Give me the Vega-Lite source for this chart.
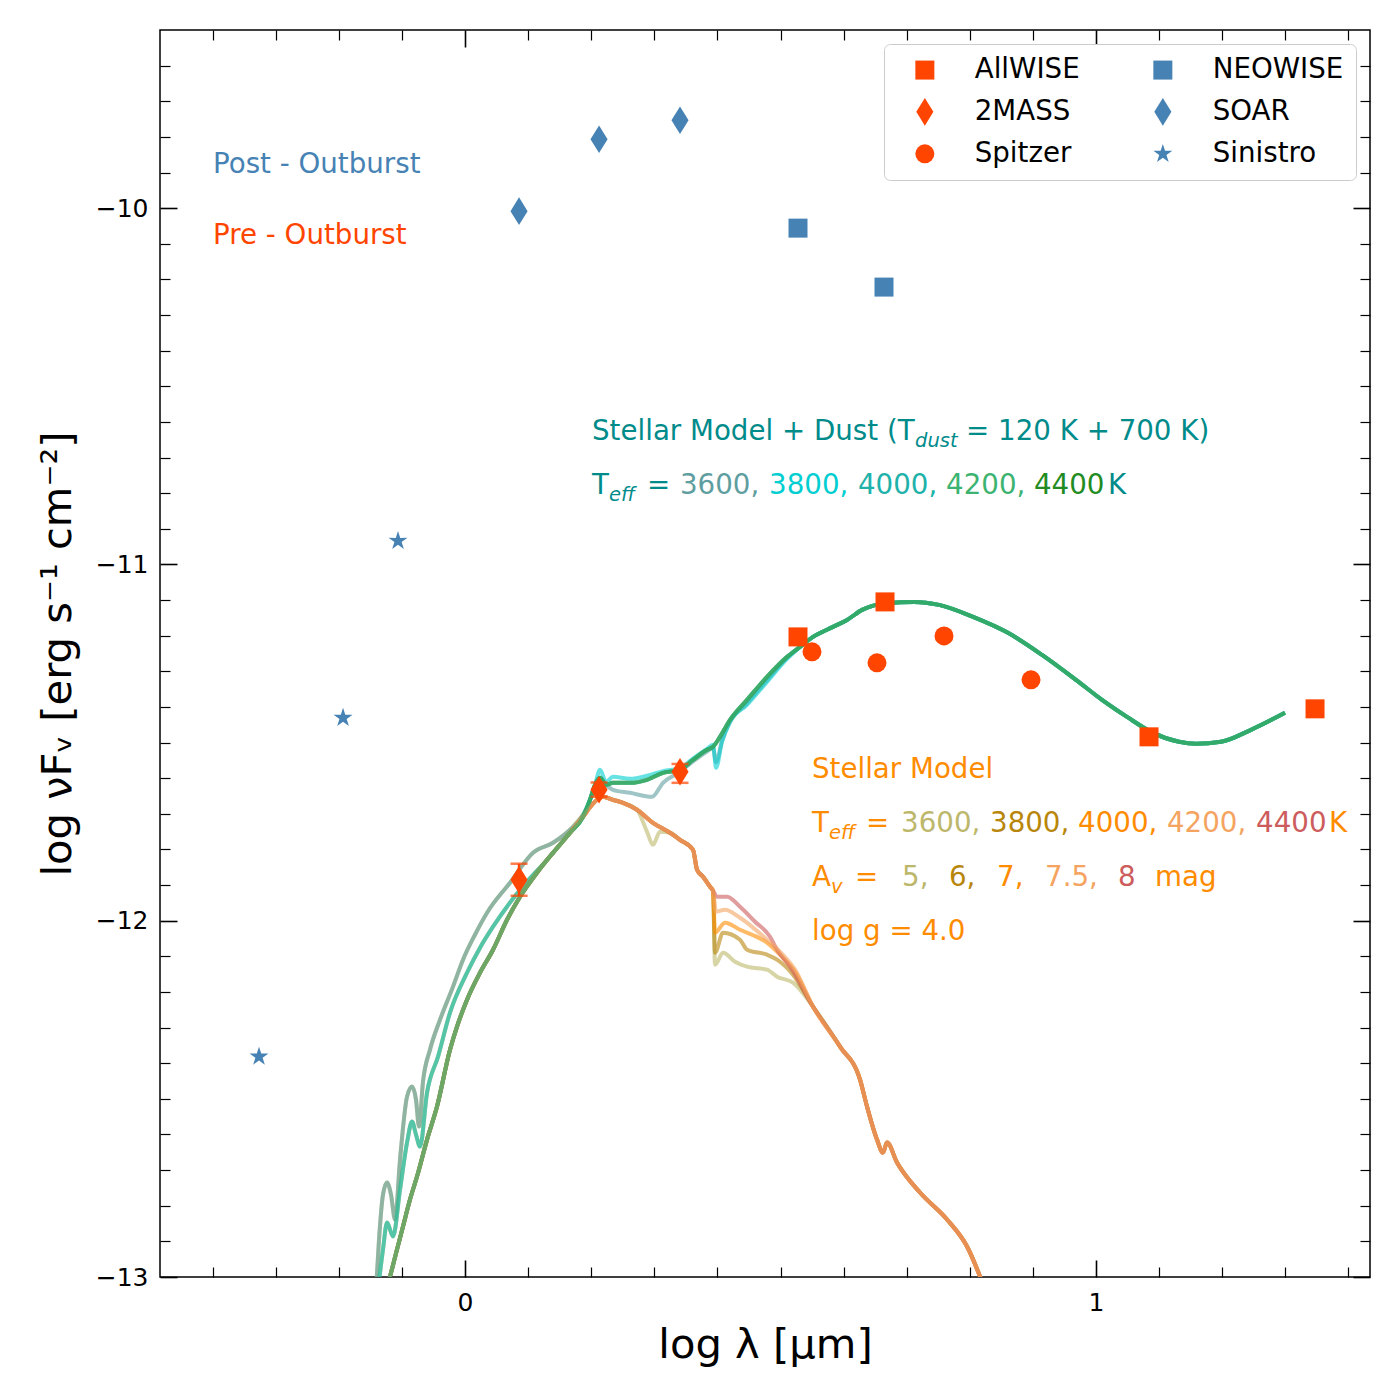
{
  "$schema": "https://vega.github.io/schema/vega-lite/v6.json",
  "width": 1210,
  "height": 1247,
  "autosize": "none",
  "padding": {"left": 160, "top": 30, "right": 30, "bottom": 123},
  "background": "white",
  "config": {
    "font": "DejaVu Sans",
    "view": {"stroke": "black", "strokeWidth": 1.5},
    "axis": {"grid": false, "domain": false, "tickColor": "black", "labelColor": "black", "titleColor": "black", "labelFont": "DejaVu Sans", "titleFont": "DejaVu Sans", "titleFontWeight": "normal", "tickWidth": 1.5},
    "legend": {"orient": "top-right", "offset": 14, "columns": 2, "padding": 12, "strokeColor": "#cccccc", "fillColor": "white", "cornerRadius": 6, "labelFontSize": 27.7, "labelFont": "DejaVu Sans", "labelColor": "black", "symbolSize": 361, "symbolOffset": 15, "labelOffset": 36, "columnPadding": 54, "rowPadding": 13, "symbolStrokeWidth": 0, "labelLimit": 400, "symbolOpacity": 1}
  },
  "resolve": {"axis": {"x": "independent", "y": "independent"}},
  "datasets": {
    "pts": [
      {"survey": "AllWISE", "x": 0.5277, "y": -11.2034},
      {"survey": "AllWISE", "x": 0.6656, "y": -11.1052},
      {"survey": "AllWISE", "x": 1.084, "y": -11.4839},
      {"survey": "AllWISE", "x": 1.3471, "y": -11.4053},
      {"survey": "2MASS", "x": 0.0856, "y": -11.885},
      {"survey": "2MASS", "x": 0.2124, "y": -11.6325},
      {"survey": "2MASS", "x": 0.3407, "y": -11.582},
      {"survey": "Spitzer", "x": 0.5499, "y": -11.2454},
      {"survey": "Spitzer", "x": 0.6529, "y": -11.2763},
      {"survey": "Spitzer", "x": 0.7591, "y": -11.2006},
      {"survey": "Spitzer", "x": 0.897, "y": -11.324},
      {"survey": "NEOWISE", "x": 0.5277, "y": -10.0561},
      {"survey": "NEOWISE", "x": 0.664, "y": -10.2216},
      {"survey": "SOAR", "x": 0.0856, "y": -10.0084},
      {"survey": "SOAR", "x": 0.2124, "y": -9.8065},
      {"survey": "SOAR", "x": 0.3407, "y": -9.7532},
      {"survey": "Sinistro", "x": -0.3265, "y": -12.3815},
      {"survey": "Sinistro", "x": -0.1933, "y": -11.4306},
      {"survey": "Sinistro", "x": -0.1062, "y": -10.9341}
    ],
    "errs": [
      {"x": 0.0856, "lo": -11.93, "hi": -11.84},
      {"x": 0.2124, "lo": -11.652, "hi": -11.612},
      {"x": 0.3407, "lo": -11.613, "hi": -11.56}
    ],
    "labels": [
      {"k": "post", "x": -0.3994, "y": -9.9018, "t": "Post - Outburst"},
      {"k": "pre", "x": -0.3994, "y": -10.101, "t": "Pre - Outburst"},
      {"k": "dusttxt", "x": 0.2013, "y": -10.6508, "t": "Stellar Model + Dust (T"},
      {"k": "dusttxt", "x": 0.794, "y": -10.6508, "t": "= 120 K + 700 K)"},
      {"k": "dusttxt", "x": 0.2013, "y": -10.8022, "t": "T"},
      {"k": "dusttxt", "x": 0.2884, "y": -10.8022, "t": "="},
      {"k": "d3600", "x": 0.3407, "y": -10.8022, "t": "3600,"},
      {"k": "d3800", "x": 0.4818, "y": -10.8022, "t": "3800,"},
      {"k": "d4000", "x": 0.6228, "y": -10.8022, "t": "4000,"},
      {"k": "d4200", "x": 0.7623, "y": -10.8022, "t": "4200,"},
      {"k": "d4400", "x": 0.9017, "y": -10.8022, "t": "4400"},
      {"k": "dusttxt", "x": 1.019, "y": -10.8022, "t": "K"},
      {"k": "steltxt", "x": 0.5499, "y": -11.5989, "t": "Stellar Model"},
      {"k": "steltxt", "x": 0.5499, "y": -11.7504, "t": "T"},
      {"k": "steltxt", "x": 0.6355, "y": -11.7504, "t": "="},
      {"k": "s3600", "x": 0.691, "y": -11.7504, "t": "3600,"},
      {"k": "s3800", "x": 0.832, "y": -11.7504, "t": "3800,"},
      {"k": "s4000", "x": 0.9715, "y": -11.7504, "t": "4000,"},
      {"k": "s4200", "x": 1.1125, "y": -11.7504, "t": "4200,"},
      {"k": "s4400", "x": 1.2536, "y": -11.7504, "t": "4400"},
      {"k": "steltxt", "x": 1.3693, "y": -11.7504, "t": "K"},
      {"k": "steltxt", "x": 0.5499, "y": -11.9018, "t": "A"},
      {"k": "steltxt", "x": 0.6181, "y": -11.9018, "t": "="},
      {"k": "s3600", "x": 0.6926, "y": -11.9018, "t": "5,"},
      {"k": "s3800", "x": 0.767, "y": -11.9018, "t": "6,"},
      {"k": "s4000", "x": 0.8431, "y": -11.9018, "t": "7,"},
      {"k": "s4200", "x": 0.9192, "y": -11.9018, "t": "7.5,"},
      {"k": "s4400", "x": 1.0349, "y": -11.9018, "t": "8"},
      {"k": "steltxt", "x": 1.0935, "y": -11.9018, "t": "mag"},
      {"k": "steltxt", "x": 0.5499, "y": -12.0533, "t": "log g = 4.0"}
    ],
    "subs": [
      {"k": "dusttxt", "x": 0.7132, "y": -10.6704, "t": "dust"},
      {"k": "dusttxt", "x": 0.2282, "y": -10.8219, "t": "eff"},
      {"k": "steltxt", "x": 0.5769, "y": -11.77, "t": "eff"},
      {"k": "steltxt", "x": 0.58, "y": -11.9215, "t": "v"}
    ],
    "lines": [
      {"s":"s3600","x":-0.1410,"y":-13.035},{"s":"s3600","x":-0.1363,"y":-12.8948},{"s":"s3600","x":-0.1300,"y":-12.7686},{"s":"s3600","x":-0.1236,"y":-12.7349},{"s":"s3600","x":-0.1173,"y":-12.7686},{"s":"s3600","x":-0.1109,"y":-12.8387},{"s":"s3600","x":-0.1030,"y":-12.6704},{"s":"s3600","x":-0.0919,"y":-12.4937},{"s":"s3600","x":-0.0840,"y":-12.4656},{"s":"s3600","x":-0.0777,"y":-12.5021},{"s":"s3600","x":-0.0729,"y":-12.5778},{"s":"s3600","x":-0.0666,"y":-12.4516},{"s":"s3600","x":-0.0555,"y":-12.3619},{"s":"s3600","x":-0.0396,"y":-12.2777},{"s":"s3600","x":-0.0190,"y":-12.1851},{"s":"s3600","x":-0.0032,"y":-12.1094},{"s":"s3600","x":0.0158,"y":-12.0393},{"s":"s3600","x":0.0349,"y":-11.9776},{"s":"s3600","x":0.0713,"y":-11.8934},{"s":"s3600","x":0.1078,"y":-11.8093},{"s":"s3600","x":0.1395,"y":-11.7812},{"s":"s3600","x":0.1664,"y":-11.7448},{"s":"s3600","x":0.1870,"y":-11.7027},
      {"s":"s3600","x":0.2013,"y":-11.6746},{"s":"s3600","x":0.2092,"y":-11.6606},{"s":"s3600","x":0.2187,"y":-11.6522},{"s":"s3600","x":0.2345,"y":-11.6606},{"s":"s3600","x":0.2504,"y":-11.669},{"s":"s3600","x":0.2726,"y":-11.6886},{"s":"s3600","x":0.2884,"y":-11.7504},{"s":"s3600","x":0.2979,"y":-11.7868},{"s":"s3600","x":0.3090,"y":-11.7504},{"s":"s3600","x":0.3249,"y":-11.7532},{"s":"s3600","x":0.3407,"y":-11.7728},{"s":"s3600","x":0.3613,"y":-11.8008},{"s":"s3600","x":0.3677,"y":-11.857},{"s":"s3600","x":0.3772,"y":-11.8766},{"s":"s3600","x":0.3883,"y":-11.9046},{"s":"s3600","x":0.3930,"y":-11.9158},
      {"s":"s3600","x":0.3962,"y":-12.1234},{"s":"s3600","x":0.4089,"y":-12.0898},{"s":"s3600","x":0.4279,"y":-12.115},{"s":"s3600","x":0.4469,"y":-12.129},{"s":"s3600","x":0.4786,"y":-12.1374},{"s":"s3600","x":0.4945,"y":-12.1571},{"s":"s3600","x":0.5198,"y":-12.1739},
      {"s":"s3600","x":0.5515,"y":-12.2412},{"s":"s3600","x":0.5943,"y":-12.3534},{"s":"s3600","x":0.6260,"y":-12.446},{"s":"s3600","x":0.6371,"y":-12.5217},{"s":"s3600","x":0.6529,"y":-12.6143},{"s":"s3600","x":0.6624,"y":-12.6507},{"s":"s3600","x":0.6688,"y":-12.6227},{"s":"s3600","x":0.6846,"y":-12.6788},{"s":"s3600","x":0.7211,"y":-12.763},{"s":"s3600","x":0.7639,"y":-12.8387},{"s":"s3600","x":0.7956,"y":-12.9144},{"s":"s3600","x":0.8241,"y":-13.035},

      {"s":"d3600","x":-0.1410,"y":-13.035},{"s":"d3600","x":-0.1363,"y":-12.8948},{"s":"d3600","x":-0.1300,"y":-12.7686},{"s":"d3600","x":-0.1236,"y":-12.7349},{"s":"d3600","x":-0.1173,"y":-12.7686},{"s":"d3600","x":-0.1109,"y":-12.8387},{"s":"d3600","x":-0.1030,"y":-12.6704},{"s":"d3600","x":-0.0919,"y":-12.4937},{"s":"d3600","x":-0.0840,"y":-12.4656},{"s":"d3600","x":-0.0777,"y":-12.5021},{"s":"d3600","x":-0.0729,"y":-12.5778},{"s":"d3600","x":-0.0666,"y":-12.4516},{"s":"d3600","x":-0.0555,"y":-12.3619},{"s":"d3600","x":-0.0396,"y":-12.2777},{"s":"d3600","x":-0.0190,"y":-12.1851},{"s":"d3600","x":-0.0032,"y":-12.1094},{"s":"d3600","x":0.0158,"y":-12.0393},{"s":"d3600","x":0.0349,"y":-11.9776},{"s":"d3600","x":0.0713,"y":-11.8934},{"s":"d3600","x":0.1078,"y":-11.8093},{"s":"d3600","x":0.1395,"y":-11.7812},{"s":"d3600","x":0.1664,"y":-11.7448},{"s":"d3600","x":0.1870,"y":-11.7027},
      {"s":"d3600","x":0.1981,"y":-11.6606},{"s":"d3600","x":0.2060,"y":-11.6185},
      {"s":"d3600","x":0.2139,"y":-11.5989},{"s":"d3600","x":0.2235,"y":-11.6185},{"s":"d3600","x":0.2345,"y":-11.6325},{"s":"d3600","x":0.2615,"y":-11.641},{"s":"d3600","x":0.2964,"y":-11.6522},{"s":"d3600","x":0.3138,"y":-11.6129},{"s":"d3600","x":0.3407,"y":-11.582},{"s":"d3600","x":0.3613,"y":-11.553},{"s":"d3600","x":0.3835,"y":-11.525},{"s":"d3600","x":0.3930,"y":-11.515},{"s":"d3600","x":0.3978,"y":-11.555},{"s":"d3600","x":0.4073,"y":-11.495},{"s":"d3600","x":0.4200,"y":-11.442},{"s":"d3600","x":0.4469,"y":-11.39},{"s":"d3600","x":0.4786,"y":-11.325},{"s":"d3600","x":0.5103,"y":-11.262},{"s":"d3600","x":0.5309,"y":-11.2314},
      {"s":"d3600","x":0.5515,"y":-11.2034},{"s":"d3600","x":0.5832,"y":-11.1753},{"s":"d3600","x":0.6054,"y":-11.1557},{"s":"d3600","x":0.6292,"y":-11.1276},{"s":"d3600","x":0.6704,"y":-11.108},{"s":"d3600","x":0.7116,"y":-11.1052},{"s":"d3600","x":0.7512,"y":-11.1136},{"s":"d3600","x":0.8051,"y":-11.1473},{"s":"d3600","x":0.8605,"y":-11.1921},{"s":"d3600","x":0.9144,"y":-11.2539},{"s":"d3600","x":0.9683,"y":-11.324},{"s":"d3600","x":1.0095,"y":-11.3801},{"s":"d3600","x":1.0491,"y":-11.4278},{"s":"d3600","x":1.0903,"y":-11.4727},{"s":"d3600","x":1.1315,"y":-11.4979},{"s":"d3600","x":1.1585,"y":-11.5035},{"s":"d3600","x":1.1981,"y":-11.4979},{"s":"d3600","x":1.2456,"y":-11.4642},{"s":"d3600","x":1.2995,"y":-11.4165},

      {"s":"s3800","x":-0.1379,"y":-13.035},{"s":"s3800","x":-0.1300,"y":-12.9229},{"s":"s3800","x":-0.1236,"y":-12.8471},{"s":"s3800","x":-0.1141,"y":-12.8864},{"s":"s3800","x":-0.1030,"y":-12.7546},{"s":"s3800","x":-0.0919,"y":-12.6227},{"s":"s3800","x":-0.0840,"y":-12.5638},{"s":"s3800","x":-0.0777,"y":-12.6003},{"s":"s3800","x":-0.0713,"y":-12.6339},{"s":"s3800","x":-0.0602,"y":-12.4825},{"s":"s3800","x":-0.0428,"y":-12.3815},{"s":"s3800","x":-0.0238,"y":-12.2581},{"s":"s3800","x":0.0032,"y":-12.1459},{"s":"s3800","x":0.0238,"y":-12.0757},{"s":"s3800","x":0.0444,"y":-12.0168},{"s":"s3800","x":0.0872,"y":-11.913},{"s":"s3800","x":0.1300,"y":-11.8289},{"s":"s3800","x":0.1664,"y":-11.7532},{"s":"s3800","x":0.1870,"y":-11.7083},
      {"s":"s3800","x":0.2013,"y":-11.6746},{"s":"s3800","x":0.2092,"y":-11.6606},{"s":"s3800","x":0.2187,"y":-11.6522},{"s":"s3800","x":0.2345,"y":-11.6606},{"s":"s3800","x":0.2504,"y":-11.669},{"s":"s3800","x":0.2726,"y":-11.6886},{"s":"s3800","x":0.2979,"y":-11.7251},{"s":"s3800","x":0.3249,"y":-11.7532},{"s":"s3800","x":0.3407,"y":-11.7728},{"s":"s3800","x":0.3613,"y":-11.8008},{"s":"s3800","x":0.3677,"y":-11.857},{"s":"s3800","x":0.3772,"y":-11.8766},{"s":"s3800","x":0.3883,"y":-11.9046},{"s":"s3800","x":0.3930,"y":-11.9158},
      {"s":"s3800","x":0.3962,"y":-12.0898},{"s":"s3800","x":0.4089,"y":-12.0337},{"s":"s3800","x":0.4358,"y":-12.0533},{"s":"s3800","x":0.4469,"y":-12.0814},{"s":"s3800","x":0.4786,"y":-12.0954},{"s":"s3800","x":0.4945,"y":-12.1094},{"s":"s3800","x":0.5198,"y":-12.1515},
      {"s":"s3800","x":0.5515,"y":-12.2412},{"s":"s3800","x":0.5943,"y":-12.3534},{"s":"s3800","x":0.6260,"y":-12.446},{"s":"s3800","x":0.6371,"y":-12.5217},{"s":"s3800","x":0.6529,"y":-12.6143},{"s":"s3800","x":0.6624,"y":-12.6507},{"s":"s3800","x":0.6688,"y":-12.6227},{"s":"s3800","x":0.6846,"y":-12.6788},{"s":"s3800","x":0.7211,"y":-12.763},{"s":"s3800","x":0.7639,"y":-12.8387},{"s":"s3800","x":0.7956,"y":-12.9144},{"s":"s3800","x":0.8241,"y":-13.035},

      {"s":"d3800","x":-0.1379,"y":-13.035},{"s":"d3800","x":-0.1300,"y":-12.9229},{"s":"d3800","x":-0.1236,"y":-12.8471},{"s":"d3800","x":-0.1141,"y":-12.8864},{"s":"d3800","x":-0.1030,"y":-12.7546},{"s":"d3800","x":-0.0919,"y":-12.6227},{"s":"d3800","x":-0.0840,"y":-12.5638},{"s":"d3800","x":-0.0777,"y":-12.6003},{"s":"d3800","x":-0.0713,"y":-12.6339},{"s":"d3800","x":-0.0602,"y":-12.4825},{"s":"d3800","x":-0.0428,"y":-12.3815},{"s":"d3800","x":-0.0238,"y":-12.2581},{"s":"d3800","x":0.0032,"y":-12.1459},{"s":"d3800","x":0.0238,"y":-12.0757},{"s":"d3800","x":0.0444,"y":-12.0168},{"s":"d3800","x":0.0872,"y":-11.913},{"s":"d3800","x":0.1300,"y":-11.8289},{"s":"d3800","x":0.1664,"y":-11.7532},{"s":"d3800","x":0.1870,"y":-11.7083},
      {"s":"d3800","x":0.1981,"y":-11.6606},{"s":"d3800","x":0.2060,"y":-11.6185},
      {"s":"d3800","x":0.2139,"y":-11.5764},{"s":"d3800","x":0.2235,"y":-11.61},{"s":"d3800","x":0.2345,"y":-11.5961},{"s":"d3800","x":0.2615,"y":-11.6017},{"s":"d3800","x":0.2884,"y":-11.5933},{"s":"d3800","x":0.3138,"y":-11.58},{"s":"d3800","x":0.3407,"y":-11.572},{"s":"d3800","x":0.3613,"y":-11.545},{"s":"d3800","x":0.3835,"y":-11.518},{"s":"d3800","x":0.3930,"y":-11.5063},{"s":"d3800","x":0.3978,"y":-11.5708},{"s":"d3800","x":0.4073,"y":-11.4979},{"s":"d3800","x":0.4200,"y":-11.442},{"s":"d3800","x":0.4469,"y":-11.3941},{"s":"d3800","x":0.4786,"y":-11.3296},{"s":"d3800","x":0.5103,"y":-11.265},{"s":"d3800","x":0.5309,"y":-11.2314},
      {"s":"d3800","x":0.5515,"y":-11.2034},{"s":"d3800","x":0.5832,"y":-11.1753},{"s":"d3800","x":0.6054,"y":-11.1557},{"s":"d3800","x":0.6292,"y":-11.1276},{"s":"d3800","x":0.6704,"y":-11.108},{"s":"d3800","x":0.7116,"y":-11.1052},{"s":"d3800","x":0.7512,"y":-11.1136},{"s":"d3800","x":0.8051,"y":-11.1473},{"s":"d3800","x":0.8605,"y":-11.1921},{"s":"d3800","x":0.9144,"y":-11.2539},{"s":"d3800","x":0.9683,"y":-11.324},{"s":"d3800","x":1.0095,"y":-11.3801},{"s":"d3800","x":1.0491,"y":-11.4278},{"s":"d3800","x":1.0903,"y":-11.4727},{"s":"d3800","x":1.1315,"y":-11.4979},{"s":"d3800","x":1.1585,"y":-11.5035},{"s":"d3800","x":1.1981,"y":-11.4979},{"s":"d3800","x":1.2456,"y":-11.4642},{"s":"d3800","x":1.2995,"y":-11.4165},

      {"s":"s4000","x":-0.1252,"y":-13.035},{"s":"s4000","x":-0.1189,"y":-12.9986},{"s":"s4000","x":-0.1078,"y":-12.9229},{"s":"s4000","x":-0.0983,"y":-12.8583},{"s":"s4000","x":-0.0872,"y":-12.7826},{"s":"s4000","x":-0.0761,"y":-12.7181},{"s":"s4000","x":-0.0602,"y":-12.6143},{"s":"s4000","x":-0.0444,"y":-12.5217},{"s":"s4000","x":-0.0238,"y":-12.3619},{"s":"s4000","x":-0.0127,"y":-12.2973},{"s":"s4000","x":0.0032,"y":-12.2216},{"s":"s4000","x":0.0238,"y":-12.1459},{"s":"s4000","x":0.0444,"y":-12.0814},{"s":"s4000","x":0.0666,"y":-11.9972},{"s":"s4000","x":0.0872,"y":-11.9327},{"s":"s4000","x":0.1141,"y":-11.8654},{"s":"s4000","x":0.1395,"y":-11.8093},{"s":"s4000","x":0.1664,"y":-11.7532},{"s":"s4000","x":0.1870,"y":-11.7083},
      {"s":"s4000","x":0.2013,"y":-11.6746},{"s":"s4000","x":0.2092,"y":-11.6606},{"s":"s4000","x":0.2187,"y":-11.6522},{"s":"s4000","x":0.2345,"y":-11.6606},{"s":"s4000","x":0.2504,"y":-11.669},{"s":"s4000","x":0.2726,"y":-11.6886},{"s":"s4000","x":0.2979,"y":-11.7251},{"s":"s4000","x":0.3249,"y":-11.7532},{"s":"s4000","x":0.3407,"y":-11.7728},{"s":"s4000","x":0.3613,"y":-11.8008},{"s":"s4000","x":0.3677,"y":-11.857},{"s":"s4000","x":0.3772,"y":-11.8766},{"s":"s4000","x":0.3883,"y":-11.9046},{"s":"s4000","x":0.3930,"y":-11.9158},
      {"s":"s4000","x":0.3962,"y":-12.0337},{"s":"s4000","x":0.4120,"y":-12.0056},{"s":"s4000","x":0.4358,"y":-12.0252},{"s":"s4000","x":0.4786,"y":-12.0617},{"s":"s4000","x":0.4992,"y":-12.0954},{"s":"s4000","x":0.5230,"y":-12.1431},
      {"s":"s4000","x":0.5515,"y":-12.2412},{"s":"s4000","x":0.5943,"y":-12.3534},{"s":"s4000","x":0.6260,"y":-12.446},{"s":"s4000","x":0.6371,"y":-12.5217},{"s":"s4000","x":0.6529,"y":-12.6143},{"s":"s4000","x":0.6624,"y":-12.6507},{"s":"s4000","x":0.6688,"y":-12.6227},{"s":"s4000","x":0.6846,"y":-12.6788},{"s":"s4000","x":0.7211,"y":-12.763},{"s":"s4000","x":0.7639,"y":-12.8387},{"s":"s4000","x":0.7956,"y":-12.9144},{"s":"s4000","x":0.8241,"y":-13.035},

      {"s":"d4000","x":-0.1252,"y":-13.035},{"s":"d4000","x":-0.1189,"y":-12.9986},{"s":"d4000","x":-0.1078,"y":-12.9229},{"s":"d4000","x":-0.0983,"y":-12.8583},{"s":"d4000","x":-0.0872,"y":-12.7826},{"s":"d4000","x":-0.0761,"y":-12.7181},{"s":"d4000","x":-0.0602,"y":-12.6143},{"s":"d4000","x":-0.0444,"y":-12.5217},{"s":"d4000","x":-0.0238,"y":-12.3619},{"s":"d4000","x":-0.0127,"y":-12.2973},{"s":"d4000","x":0.0032,"y":-12.2216},{"s":"d4000","x":0.0238,"y":-12.1459},{"s":"d4000","x":0.0444,"y":-12.0814},{"s":"d4000","x":0.0666,"y":-11.9972},{"s":"d4000","x":0.0872,"y":-11.9327},{"s":"d4000","x":0.1141,"y":-11.8654},{"s":"d4000","x":0.1395,"y":-11.8093},{"s":"d4000","x":0.1664,"y":-11.7532},{"s":"d4000","x":0.1870,"y":-11.7083},
      {"s":"d4000","x":0.1981,"y":-11.6606},{"s":"d4000","x":0.2060,"y":-11.6185},
      {"s":"d4000","x":0.2139,"y":-11.5989},{"s":"d4000","x":0.2235,"y":-11.6185},{"s":"d4000","x":0.2345,"y":-11.6129},{"s":"d4000","x":0.2615,"y":-11.6129},{"s":"d4000","x":0.2884,"y":-11.6045},{"s":"d4000","x":0.3138,"y":-11.5849},{"s":"d4000","x":0.3407,"y":-11.5764},{"s":"d4000","x":0.3613,"y":-11.5484},{"s":"d4000","x":0.3835,"y":-11.5203},{"s":"d4000","x":0.3930,"y":-11.5119},{"s":"d4000","x":0.4041,"y":-11.4839},{"s":"d4000","x":0.4200,"y":-11.4362},{"s":"d4000","x":0.4469,"y":-11.3801},{"s":"d4000","x":0.4786,"y":-11.3156},{"s":"d4000","x":0.5103,"y":-11.2595},{"s":"d4000","x":0.5309,"y":-11.2314},
      {"s":"d4000","x":0.5515,"y":-11.2034},{"s":"d4000","x":0.5832,"y":-11.1753},{"s":"d4000","x":0.6054,"y":-11.1557},{"s":"d4000","x":0.6292,"y":-11.1276},{"s":"d4000","x":0.6704,"y":-11.108},{"s":"d4000","x":0.7116,"y":-11.1052},{"s":"d4000","x":0.7512,"y":-11.1136},{"s":"d4000","x":0.8051,"y":-11.1473},{"s":"d4000","x":0.8605,"y":-11.1921},{"s":"d4000","x":0.9144,"y":-11.2539},{"s":"d4000","x":0.9683,"y":-11.324},{"s":"d4000","x":1.0095,"y":-11.3801},{"s":"d4000","x":1.0491,"y":-11.4278},{"s":"d4000","x":1.0903,"y":-11.4727},{"s":"d4000","x":1.1315,"y":-11.4979},{"s":"d4000","x":1.1585,"y":-11.5035},{"s":"d4000","x":1.1981,"y":-11.4979},{"s":"d4000","x":1.2456,"y":-11.4642},{"s":"d4000","x":1.2995,"y":-11.4165},

      {"s":"s4400","x":-0.1252,"y":-13.035},{"s":"s4400","x":-0.1189,"y":-12.9986},{"s":"s4400","x":-0.1078,"y":-12.9229},{"s":"s4400","x":-0.0983,"y":-12.8583},{"s":"s4400","x":-0.0872,"y":-12.7826},{"s":"s4400","x":-0.0761,"y":-12.7181},{"s":"s4400","x":-0.0602,"y":-12.6143},{"s":"s4400","x":-0.0444,"y":-12.5217},{"s":"s4400","x":-0.0238,"y":-12.3619},{"s":"s4400","x":-0.0127,"y":-12.2973},{"s":"s4400","x":0.0032,"y":-12.2216},{"s":"s4400","x":0.0238,"y":-12.1459},{"s":"s4400","x":0.0444,"y":-12.0814},{"s":"s4400","x":0.0666,"y":-11.9972},{"s":"s4400","x":0.0872,"y":-11.9327},{"s":"s4400","x":0.1141,"y":-11.8654},{"s":"s4400","x":0.1395,"y":-11.8093},{"s":"s4400","x":0.1664,"y":-11.7532},{"s":"s4400","x":0.1870,"y":-11.7083},
      {"s":"s4400","x":0.2013,"y":-11.6746},{"s":"s4400","x":0.2092,"y":-11.6606},{"s":"s4400","x":0.2187,"y":-11.6522},{"s":"s4400","x":0.2345,"y":-11.6606},{"s":"s4400","x":0.2504,"y":-11.669},{"s":"s4400","x":0.2726,"y":-11.6886},{"s":"s4400","x":0.2979,"y":-11.7251},{"s":"s4400","x":0.3249,"y":-11.7532},{"s":"s4400","x":0.3407,"y":-11.7728},{"s":"s4400","x":0.3613,"y":-11.8008},{"s":"s4400","x":0.3677,"y":-11.857},{"s":"s4400","x":0.3772,"y":-11.8766},{"s":"s4400","x":0.3883,"y":-11.9046},{"s":"s4400","x":0.3930,"y":-11.9158},
      {"s":"s4400","x":0.3994,"y":-11.9327},{"s":"s4400","x":0.4152,"y":-11.9327},{"s":"s4400","x":0.4358,"y":-11.9607},{"s":"s4400","x":0.4596,"y":-12.0028},{"s":"s4400","x":0.4834,"y":-12.0449},{"s":"s4400","x":0.4945,"y":-12.0814},{"s":"s4400","x":0.5151,"y":-12.129},
      {"s":"s4400","x":0.5515,"y":-12.2412},{"s":"s4400","x":0.5943,"y":-12.3534},{"s":"s4400","x":0.6260,"y":-12.446},{"s":"s4400","x":0.6371,"y":-12.5217},{"s":"s4400","x":0.6529,"y":-12.6143},{"s":"s4400","x":0.6624,"y":-12.6507},{"s":"s4400","x":0.6688,"y":-12.6227},{"s":"s4400","x":0.6846,"y":-12.6788},{"s":"s4400","x":0.7211,"y":-12.763},{"s":"s4400","x":0.7639,"y":-12.8387},{"s":"s4400","x":0.7956,"y":-12.9144},{"s":"s4400","x":0.8241,"y":-13.035},

      {"s":"d4400","x":-0.1252,"y":-13.035},{"s":"d4400","x":-0.1189,"y":-12.9986},{"s":"d4400","x":-0.1078,"y":-12.9229},{"s":"d4400","x":-0.0983,"y":-12.8583},{"s":"d4400","x":-0.0872,"y":-12.7826},{"s":"d4400","x":-0.0761,"y":-12.7181},{"s":"d4400","x":-0.0602,"y":-12.6143},{"s":"d4400","x":-0.0444,"y":-12.5217},{"s":"d4400","x":-0.0238,"y":-12.3619},{"s":"d4400","x":-0.0127,"y":-12.2973},{"s":"d4400","x":0.0032,"y":-12.2216},{"s":"d4400","x":0.0238,"y":-12.1459},{"s":"d4400","x":0.0444,"y":-12.0814},{"s":"d4400","x":0.0666,"y":-11.9972},{"s":"d4400","x":0.0872,"y":-11.9327},{"s":"d4400","x":0.1141,"y":-11.8654},{"s":"d4400","x":0.1395,"y":-11.8093},{"s":"d4400","x":0.1664,"y":-11.7532},{"s":"d4400","x":0.1870,"y":-11.7083},
      {"s":"d4400","x":0.1981,"y":-11.6606},{"s":"d4400","x":0.2060,"y":-11.6185},
      {"s":"d4400","x":0.2139,"y":-11.5989},{"s":"d4400","x":0.2235,"y":-11.6185},{"s":"d4400","x":0.2345,"y":-11.6129},{"s":"d4400","x":0.2615,"y":-11.6129},{"s":"d4400","x":0.2884,"y":-11.6045},{"s":"d4400","x":0.3138,"y":-11.5849},{"s":"d4400","x":0.3407,"y":-11.5764},{"s":"d4400","x":0.3613,"y":-11.5484},{"s":"d4400","x":0.3835,"y":-11.5203},{"s":"d4400","x":0.3930,"y":-11.5119},{"s":"d4400","x":0.4041,"y":-11.4839},{"s":"d4400","x":0.4200,"y":-11.4362},{"s":"d4400","x":0.4469,"y":-11.3801},{"s":"d4400","x":0.4786,"y":-11.3156},{"s":"d4400","x":0.5103,"y":-11.2595},{"s":"d4400","x":0.5309,"y":-11.2314},
      {"s":"d4400","x":0.5515,"y":-11.2034},{"s":"d4400","x":0.5832,"y":-11.1753},{"s":"d4400","x":0.6054,"y":-11.1557},{"s":"d4400","x":0.6292,"y":-11.1276},{"s":"d4400","x":0.6704,"y":-11.108},{"s":"d4400","x":0.7116,"y":-11.1052},{"s":"d4400","x":0.7512,"y":-11.1136},{"s":"d4400","x":0.8051,"y":-11.1473},{"s":"d4400","x":0.8605,"y":-11.1921},{"s":"d4400","x":0.9144,"y":-11.2539},{"s":"d4400","x":0.9683,"y":-11.324},{"s":"d4400","x":1.0095,"y":-11.3801},{"s":"d4400","x":1.0491,"y":-11.4278},{"s":"d4400","x":1.0903,"y":-11.4727},{"s":"d4400","x":1.1315,"y":-11.4979},{"s":"d4400","x":1.1585,"y":-11.5035},{"s":"d4400","x":1.1981,"y":-11.4979},{"s":"d4400","x":1.2456,"y":-11.4642},{"s":"d4400","x":1.2995,"y":-11.4165},

      {"s":"s4200","x":-0.1252,"y":-13.035},{"s":"s4200","x":-0.1189,"y":-12.9986},{"s":"s4200","x":-0.1078,"y":-12.9229},{"s":"s4200","x":-0.0983,"y":-12.8583},{"s":"s4200","x":-0.0872,"y":-12.7826},{"s":"s4200","x":-0.0761,"y":-12.7181},{"s":"s4200","x":-0.0602,"y":-12.6143},{"s":"s4200","x":-0.0444,"y":-12.5217},{"s":"s4200","x":-0.0238,"y":-12.3619},{"s":"s4200","x":-0.0127,"y":-12.2973},{"s":"s4200","x":0.0032,"y":-12.2216},{"s":"s4200","x":0.0238,"y":-12.1459},{"s":"s4200","x":0.0444,"y":-12.0814},{"s":"s4200","x":0.0666,"y":-11.9972},{"s":"s4200","x":0.0872,"y":-11.9327},{"s":"s4200","x":0.1141,"y":-11.8654},{"s":"s4200","x":0.1395,"y":-11.8093},{"s":"s4200","x":0.1664,"y":-11.7532},{"s":"s4200","x":0.1870,"y":-11.7083},
      {"s":"s4200","x":0.2013,"y":-11.6746},{"s":"s4200","x":0.2092,"y":-11.6606},{"s":"s4200","x":0.2187,"y":-11.6522},{"s":"s4200","x":0.2345,"y":-11.6606},{"s":"s4200","x":0.2504,"y":-11.669},{"s":"s4200","x":0.2726,"y":-11.6886},{"s":"s4200","x":0.2979,"y":-11.7251},{"s":"s4200","x":0.3249,"y":-11.7532},{"s":"s4200","x":0.3407,"y":-11.7728},{"s":"s4200","x":0.3613,"y":-11.8008},{"s":"s4200","x":0.3677,"y":-11.857},{"s":"s4200","x":0.3772,"y":-11.8766},{"s":"s4200","x":0.3883,"y":-11.9046},{"s":"s4200","x":0.3930,"y":-11.9158},
      {"s":"s4200","x":0.3978,"y":-11.9748},{"s":"s4200","x":0.4120,"y":-11.9691},{"s":"s4200","x":0.4358,"y":-11.9916},{"s":"s4200","x":0.4786,"y":-12.0533},{"s":"s4200","x":0.4992,"y":-12.087},{"s":"s4200","x":0.5230,"y":-12.1374},
      {"s":"s4200","x":0.5515,"y":-12.2412},{"s":"s4200","x":0.5943,"y":-12.3534},{"s":"s4200","x":0.6260,"y":-12.446},{"s":"s4200","x":0.6371,"y":-12.5217},{"s":"s4200","x":0.6529,"y":-12.6143},{"s":"s4200","x":0.6624,"y":-12.6507},{"s":"s4200","x":0.6688,"y":-12.6227},{"s":"s4200","x":0.6846,"y":-12.6788},{"s":"s4200","x":0.7211,"y":-12.763},{"s":"s4200","x":0.7639,"y":-12.8387},{"s":"s4200","x":0.7956,"y":-12.9144},{"s":"s4200","x":0.8241,"y":-13.035},

      {"s":"d4200","x":-0.1252,"y":-13.035},{"s":"d4200","x":-0.1189,"y":-12.9986},{"s":"d4200","x":-0.1078,"y":-12.9229},{"s":"d4200","x":-0.0983,"y":-12.8583},{"s":"d4200","x":-0.0872,"y":-12.7826},{"s":"d4200","x":-0.0761,"y":-12.7181},{"s":"d4200","x":-0.0602,"y":-12.6143},{"s":"d4200","x":-0.0444,"y":-12.5217},{"s":"d4200","x":-0.0238,"y":-12.3619},{"s":"d4200","x":-0.0127,"y":-12.2973},{"s":"d4200","x":0.0032,"y":-12.2216},{"s":"d4200","x":0.0238,"y":-12.1459},{"s":"d4200","x":0.0444,"y":-12.0814},{"s":"d4200","x":0.0666,"y":-11.9972},{"s":"d4200","x":0.0872,"y":-11.9327},{"s":"d4200","x":0.1141,"y":-11.8654},{"s":"d4200","x":0.1395,"y":-11.8093},{"s":"d4200","x":0.1664,"y":-11.7532},{"s":"d4200","x":0.1870,"y":-11.7083},
      {"s":"d4200","x":0.1981,"y":-11.6606},{"s":"d4200","x":0.2060,"y":-11.6185},
      {"s":"d4200","x":0.2139,"y":-11.5989},{"s":"d4200","x":0.2235,"y":-11.6185},{"s":"d4200","x":0.2345,"y":-11.6129},{"s":"d4200","x":0.2615,"y":-11.6129},{"s":"d4200","x":0.2884,"y":-11.6045},{"s":"d4200","x":0.3138,"y":-11.5849},{"s":"d4200","x":0.3407,"y":-11.5764},{"s":"d4200","x":0.3613,"y":-11.5484},{"s":"d4200","x":0.3835,"y":-11.5203},{"s":"d4200","x":0.3930,"y":-11.5119},{"s":"d4200","x":0.4041,"y":-11.4839},{"s":"d4200","x":0.4200,"y":-11.4362},{"s":"d4200","x":0.4469,"y":-11.3801},{"s":"d4200","x":0.4786,"y":-11.3156},{"s":"d4200","x":0.5103,"y":-11.2595},{"s":"d4200","x":0.5309,"y":-11.2314},
      {"s":"d4200","x":0.5515,"y":-11.2034},{"s":"d4200","x":0.5832,"y":-11.1753},{"s":"d4200","x":0.6054,"y":-11.1557},{"s":"d4200","x":0.6292,"y":-11.1276},{"s":"d4200","x":0.6704,"y":-11.108},{"s":"d4200","x":0.7116,"y":-11.1052},{"s":"d4200","x":0.7512,"y":-11.1136},{"s":"d4200","x":0.8051,"y":-11.1473},{"s":"d4200","x":0.8605,"y":-11.1921},{"s":"d4200","x":0.9144,"y":-11.2539},{"s":"d4200","x":0.9683,"y":-11.324},{"s":"d4200","x":1.0095,"y":-11.3801},{"s":"d4200","x":1.0491,"y":-11.4278},{"s":"d4200","x":1.0903,"y":-11.4727},{"s":"d4200","x":1.1315,"y":-11.4979},{"s":"d4200","x":1.1585,"y":-11.5035},{"s":"d4200","x":1.1981,"y":-11.4979},{"s":"d4200","x":1.2456,"y":-11.4642},{"s":"d4200","x":1.2995,"y":-11.4165}
    ]
  },
  "layer": [
    {
      "data": {"name": "lines"},
      "mark": {"type": "line", "strokeWidth": 4, "strokeOpacity": 0.6, "clip": true, "interpolate": "monotone"},
      "encoding": {
        "x": {"field": "x", "type": "quantitative", "scale": {"domain": [-0.4834, 1.4342], "nice": false, "zero": false},
          "axis": {"orient": "bottom", "values": [0, 1], "tickSize": -17, "tickWidth": 1.6, "labelPadding": 30, "labelFontSize": 25, "title": "log λ [μm]", "titleFontSize": 41.7, "titleY": 80, "titleBaseline": "alphabetic"}},
        "y": {"field": "y", "type": "quantitative", "scale": {"domain": [-13, -9.5], "nice": false, "zero": false},
          "axis": {"orient": "left", "values": [-13, -12, -11, -10], "tickSize": -17, "tickWidth": 1.6, "labelPadding": 29, "labelFontSize": 25, "title": "log νFᵥ [erg s⁻¹ cm⁻²]", "titleFontSize": 41.7, "titleX": -90, "titleBaseline": "alphabetic"}},
        "stroke": {"field": "s", "type": "nominal", "legend": null,
          "scale": {"domain": ["s3600", "s3800", "s4000", "s4200", "s4400", "d3600", "d3800", "d4000", "d4200", "d4400"],
            "range": ["#BDB76B", "#B8860B", "#FF8C00", "#F4A460", "#CD5C5C", "#5F9EA0", "#00CED1", "#20B2AA", "#3CB371", "#228B22"]}}
      }
    },
    {
      "data": {"name": "errs"},
      "mark": {"type": "rule", "color": "#FF4500", "strokeWidth": 2.5},
      "encoding": {
        "x": {"field": "x", "type": "quantitative", "scale": {"domain": [-0.4834, 1.4342], "nice": false, "zero": false},
          "axis": {"orient": "bottom", "values": [-0.4, -0.3, -0.2, -0.1, 0.1, 0.2, 0.3, 0.4, 0.5, 0.6, 0.7, 0.8, 0.9, 1.1, 1.2, 1.3, 1.4], "tickSize": -10, "tickWidth": 1.2, "labels": false, "title": null}},
        "y": {"field": "lo", "type": "quantitative", "scale": {"domain": [-13, -9.5], "nice": false, "zero": false},
          "axis": {"orient": "left", "values": [-12.9, -12.8, -12.7, -12.6, -12.5, -12.4, -12.3, -12.2, -12.1, -11.9, -11.8, -11.7, -11.6, -11.5, -11.4, -11.3, -11.2, -11.1, -10.9, -10.8, -10.7, -10.6, -10.5, -10.4, -10.3, -10.2, -10.1, -9.9, -9.8, -9.7, -9.6], "tickSize": -10, "tickWidth": 1.2, "labels": false, "title": null}},
        "y2": {"field": "hi"}
      }
    },
    {
      "data": {"name": "errs"},
      "mark": {"type": "tick", "orient": "horizontal", "color": "#FF4500", "size": 17, "thickness": 2.5},
      "encoding": {
        "x": {"field": "x", "type": "quantitative", "scale": {"domain": [-0.4834, 1.4342], "nice": false, "zero": false},
          "axis": {"orient": "top", "values": [0, 1], "tickSize": -17, "tickWidth": 1.6, "labels": false, "title": null}},
        "y": {"field": "hi", "type": "quantitative", "scale": {"domain": [-13, -9.5], "nice": false, "zero": false},
          "axis": {"orient": "right", "values": [-13, -12, -11, -10], "tickSize": -17, "tickWidth": 1.6, "labels": false, "title": null}}
      }
    },
    {
      "data": {"name": "errs"},
      "mark": {"type": "tick", "orient": "horizontal", "color": "#FF4500", "size": 17, "thickness": 2.5},
      "encoding": {
        "x": {"field": "x", "type": "quantitative", "scale": {"domain": [-0.4834, 1.4342], "nice": false, "zero": false},
          "axis": {"orient": "top", "values": [-0.4, -0.3, -0.2, -0.1, 0.1, 0.2, 0.3, 0.4, 0.5, 0.6, 0.7, 0.8, 0.9, 1.1, 1.2, 1.3, 1.4], "tickSize": -10, "tickWidth": 1.2, "labels": false, "title": null}},
        "y": {"field": "lo", "type": "quantitative", "scale": {"domain": [-13, -9.5], "nice": false, "zero": false},
          "axis": {"orient": "right", "values": [-12.9, -12.8, -12.7, -12.6, -12.5, -12.4, -12.3, -12.2, -12.1, -11.9, -11.8, -11.7, -11.6, -11.5, -11.4, -11.3, -11.2, -11.1, -10.9, -10.8, -10.7, -10.6, -10.5, -10.4, -10.3, -10.2, -10.1, -9.9, -9.8, -9.7, -9.6], "tickSize": -10, "tickWidth": 1.2, "labels": false, "title": null}}
      }
    },
    {
      "data": {"name": "pts"},
      "mark": {"type": "point", "filled": true, "size": 361, "opacity": 1, "strokeWidth": 0},
      "encoding": {
        "x": {"field": "x", "type": "quantitative", "axis": null, "scale": {"domain": [-0.4834, 1.4342], "nice": false, "zero": false}},
        "y": {"field": "y", "type": "quantitative", "axis": null, "scale": {"domain": [-13, -9.5], "nice": false, "zero": false}},
        "color": {"field": "survey", "type": "nominal", "legend": {"title": null},
          "scale": {"domain": ["AllWISE", "2MASS", "Spitzer", "NEOWISE", "SOAR", "Sinistro"], "range": ["#FF4500", "#FF4500", "#FF4500", "#4682B4", "#4682B4", "#4682B4"]}},
        "shape": {"field": "survey", "type": "nominal", "legend": {"title": null},
          "scale": {"domain": ["AllWISE", "2MASS", "Spitzer", "NEOWISE", "SOAR", "Sinistro"], "range": ["square", "M0,-1.45L0.9,0L0,1.45L-0.9,0Z", "circle", "square", "M0,-1.45L0.9,0L0,1.45L-0.9,0Z", "M0,-1.05L0.234,-0.323L0.999,-0.324L0.379,0.123L0.617,0.849L0,0.399L-0.617,0.849L-0.379,0.123L-0.999,-0.324L-0.234,-0.323Z"]}}
      }
    },
    {
      "data": {"name": "labels"},
      "mark": {"type": "text", "align": "left", "baseline": "alphabetic", "fontSize": 27.7, "font": "DejaVu Sans"},
      "encoding": {
        "x": {"field": "x", "type": "quantitative", "axis": null, "scale": {"domain": [-0.4834, 1.4342], "nice": false, "zero": false}},
        "y": {"field": "y", "type": "quantitative", "axis": null, "scale": {"domain": [-13, -9.5], "nice": false, "zero": false}},
        "text": {"field": "t"},
        "fill": {"field": "k", "type": "nominal", "legend": null,
          "scale": {"domain": ["post", "pre", "dusttxt", "steltxt", "d3600", "d3800", "d4000", "d4200", "d4400", "s3600", "s3800", "s4000", "s4200", "s4400"],
            "range": ["#4682B4", "#FF4500", "#008B8B", "#FF8C00", "#5F9EA0", "#00CED1", "#20B2AA", "#3CB371", "#228B22", "#BDB76B", "#B8860B", "#FF8C00", "#F4A460", "#CD5C5C"]}}
      }
    },
    {
      "data": {"name": "subs"},
      "mark": {"type": "text", "align": "left", "baseline": "alphabetic", "fontSize": 19.5, "fontStyle": "italic", "font": "DejaVu Sans"},
      "encoding": {
        "x": {"field": "x", "type": "quantitative", "axis": null, "scale": {"domain": [-0.4834, 1.4342], "nice": false, "zero": false}},
        "y": {"field": "y", "type": "quantitative", "axis": null, "scale": {"domain": [-13, -9.5], "nice": false, "zero": false}},
        "text": {"field": "t"},
        "fill": {"field": "k", "type": "nominal", "legend": null,
          "scale": {"domain": ["post", "pre", "dusttxt", "steltxt", "d3600", "d3800", "d4000", "d4200", "d4400", "s3600", "s3800", "s4000", "s4200", "s4400"],
            "range": ["#4682B4", "#FF4500", "#008B8B", "#FF8C00", "#5F9EA0", "#00CED1", "#20B2AA", "#3CB371", "#228B22", "#BDB76B", "#B8860B", "#FF8C00", "#F4A460", "#CD5C5C"]}}
      }
    }
  ]
}
